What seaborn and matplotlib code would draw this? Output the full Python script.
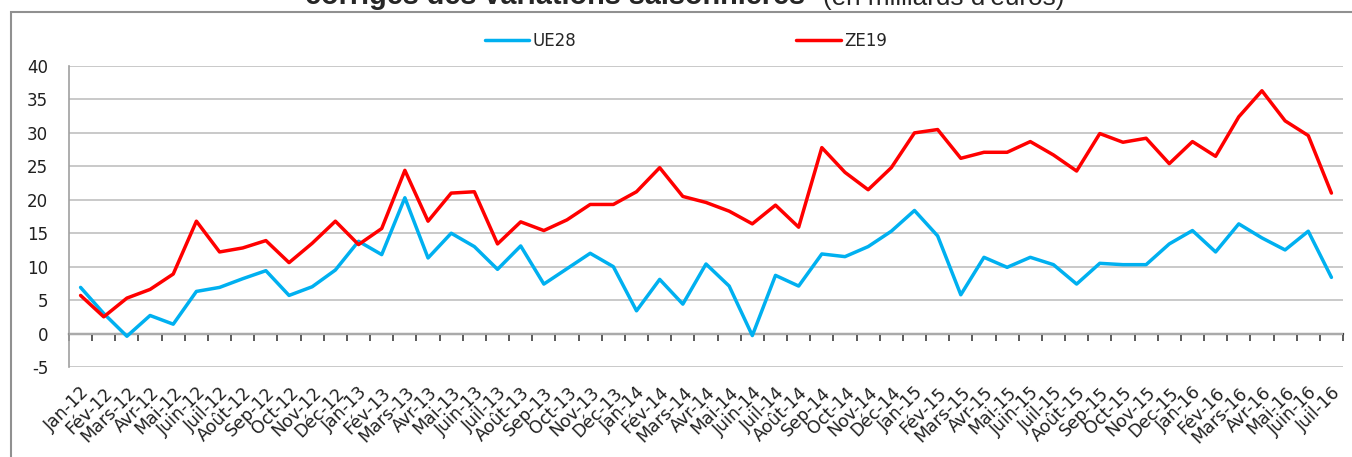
import numpy as np
import pandas as pd
import seaborn as sns
import matplotlib.pyplot as plt
import matplotlib.transforms as mtransforms
from matplotlib.patches import Rectangle

# Data (milliards d'euros)
mois = ['Jan-12', 'Fév-12', 'Mars-12', 'Avr-12', 'Mai-12', 'Juin-12', 'Juil-12', 'Août-12', 'Sep-12', 'Oct-12', 'Nov-12', 'Déc-12',
        'Jan-13', 'Fév-13', 'Mars-13', 'Avr-13', 'Mai-13', 'Juin-13', 'Juil-13', 'Août-13', 'Sep-13', 'Oct-13', 'Nov-13', 'Déc-13',
        'Jan-14', 'Fév-14', 'Mars-14', 'Avr-14', 'Mai-14', 'Juin-14', 'Juil-14', 'Août-14', 'Sep-14', 'Oct-14', 'Nov-14', 'Déc-14',
        'Jan-15', 'Fév-15', 'Mars-15', 'Avr-15', 'Mai-15', 'Juin-15', 'Juil-15', 'Août-15', 'Sep-15', 'Oct-15', 'Nov-15', 'Dec-15',
        'Jan-16', 'Fév-16', 'Mars-16', 'Avr-16', 'Mai-16', 'Juin-16', 'Juil-16']

ue28 = [6.9, 3.0, -0.4, 2.7, 1.4, 6.3, 6.9, 8.2, 9.4, 5.7, 7.0, 9.5,
        13.8, 11.8, 20.3, 11.3, 15.0, 13.0, 9.6, 13.1, 7.4, 9.7, 12.0, 10.0,
        3.4, 8.1, 4.4, 10.4, 7.1, -0.3, 8.7, 7.1, 11.9, 11.5, 13.0, 15.3,
        18.4, 14.6, 5.8, 11.4, 9.9, 11.4, 10.3, 7.4, 10.5, 10.3, 10.3, 13.4,
        15.4, 12.2, 16.4, 14.3, 12.5, 15.3, 8.4]

ze19 = [5.7, 2.5, 5.3, 6.6, 8.9, 16.8, 12.2, 12.8, 13.9, 10.6, 13.5, 16.8,
        13.3, 15.7, 24.4, 16.8, 21.0, 21.2, 13.4, 16.7, 15.4, 17.0, 19.3, 19.3,
        21.2, 24.8, 20.5, 19.6, 18.3, 16.4, 19.2, 15.9, 27.8, 24.1, 21.5, 24.8,
        30.0, 30.5, 26.2, 27.1, 27.1, 28.7, 26.7, 24.3, 29.9, 28.6, 29.2, 25.4,
        28.7, 26.5, 32.4, 36.3, 31.8, 29.6, 21.0]

df = pd.DataFrame({
    'mois': mois * 2,
    'valeur': ue28 + ze19,
    'serie': ['UE28'] * len(mois) + ['ZE19'] * len(mois),
})

sns.set_style('white')
plt.rcParams['font.family'] = ['DejaVu Sans']
plt.rcParams['axes.unicode_minus'] = False

fig = plt.figure(figsize=(13.52, 4.57), dpi=100)
ax = fig.add_axes([69 / 1352, 1 - 367 / 457, (1343 - 69) / 1352, (367 - 66) / 457])

sns.lineplot(data=df, x='mois', y='valeur', hue='serie', sort=False,
             palette={'UE28': '#00B0F0', 'ZE19': '#FF0000'}, linewidth=2.5, ax=ax)

ax.set_xlim(-0.5, len(mois) - 0.5)
ax.set_ylim(-5, 40)
ax.set_yticks(np.arange(-5, 41, 5))
ax.yaxis.grid(True, color='#c0c0c0', linewidth=1.2)
ax.set_axisbelow(True)
ax.set_xlabel('')
ax.set_ylabel('')

for s in ['top', 'right', 'bottom']:
    ax.spines[s].set_visible(False)
ax.spines['left'].set_color('#a0a0a0')
ax.spines['left'].set_linewidth(1.2)
ax.tick_params(axis='y', length=6, color='#a0a0a0', width=1.2, labelsize=12, labelcolor='#202020', pad=9)

# category labels, rotated like Excel
ax.set_xticks(range(len(mois)))
ax.set_xticklabels(mois, rotation=45, ha='right', rotation_mode='anchor', fontsize=12.5, color='#202020')
ax.tick_params(axis='x', length=0, pad=12)
offset = mtransforms.ScaledTranslation(0, 0, fig.dpi_scale_trans)
for lab in ax.get_xticklabels():
    lab.set_transform(lab.get_transform() + offset)

# horizontal axis at zero with ticks between categories
zero_ax = ax.secondary_xaxis(5 / 45)
zero_ax.set_xticks(np.arange(-0.5, len(mois), 1))
zero_ax.tick_params(axis='x', length=5, width=1.2, color='#404040', labelbottom=False)
zero_ax.spines['bottom'].set_color('#404040')
zero_ax.spines['bottom'].set_linewidth(1.6)

# legend on top
handles, labels = ax.get_legend_handles_labels()
ax.legend(handles, labels, loc='center', bbox_to_anchor=(686 / 1352, 1 - 41 / 457),
          bbox_transform=fig.transFigure, ncol=2, frameon=False, fontsize=12,
          handlelength=2.65, handletextpad=0.2, columnspacing=13.2)

# chart border
fig.patches.append(Rectangle((11 / 1352, -0.05), 1.1, 1 - 12 / 457 + 0.05, transform=fig.transFigure,
                             fill=False, edgecolor='#909090', linewidth=1.5))

# title, cut at the top of the image
fig.text(805 / 1352, 1 - 4.5 / 457, 'corrigés des variations saisonnières', ha='right', va='baseline',
         fontsize=20.8, fontweight='bold', family='Liberation Sans')
fig.text(823 / 1352, 1 - 4.5 / 457, "(en milliards d'euros)", ha='left', va='baseline',
         fontsize=18.8, family='Liberation Sans')

fig.savefig('out.png', dpi=100)
